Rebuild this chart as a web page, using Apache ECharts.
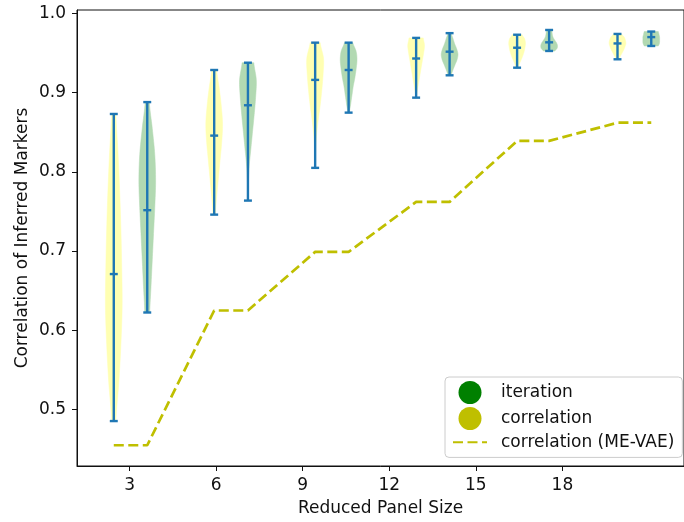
<!DOCTYPE html>
<html>
<head>
<meta charset="utf-8">
<script src="https://cdn.jsdelivr.net/npm/echarts@6/dist/echarts.min.js"></script>
<style>
html,body{margin:0;padding:0;background:#fff;}
#chart{width:684px;height:522px;}
</style>
</head>
<body>
<div id="chart"></div>
<script>
// ---- data ----
const xTicks = [3, 6, 9, 12, 15, 18];
const yTicks = [0.5, 0.6, 0.7, 0.8, 0.9, 1.0];

// "correlation" violins (yellow)
const corrPos    = [2.45, 5.93, 9.43, 12.93, 16.43, 19.91];
const corrMin    = [0.4855, 0.746, 0.805, 0.8936, 0.9314, 0.942];
const corrMedian = [0.671, 0.8457, 0.916, 0.943, 0.9566, 0.962];
const corrMax    = [0.873, 0.9285, 0.963, 0.969, 0.973, 0.974];
// relative density width sampled evenly from min to max
const corrShape = [
  [0.25, 0.6, 0.85, 1.0, 0.95, 0.85, 0.7, 0.5, 0.25],
  [0.15, 0.3, 0.5, 0.7, 0.9, 1.0, 0.85, 0.6, 0.3],
  [0.02, 0.05, 0.15, 0.35, 0.6, 0.8, 0.95, 1.0, 0.6],
  [0.02, 0.15, 0.3, 0.45, 0.6, 0.75, 0.9, 1.0, 0.85],
  [0.15, 0.3, 0.5, 0.7, 0.85, 0.95, 1.0, 0.9, 0.6],
  [0.2, 0.35, 0.55, 0.75, 0.9, 1.0, 0.95, 0.8, 0.5]
];

// "iteration" violins (green)
const iterPos    = [3.61, 7.10, 10.59, 14.09, 17.54, 21.08];
const iterMin    = [0.6225, 0.7637, 0.8747, 0.9218, 0.9525, 0.9588];
const iterMedian = [0.7516, 0.884, 0.9285, 0.9516, 0.9634, 0.970];
const iterMax    = [0.888, 0.9377, 0.963, 0.975, 0.979, 0.977];
const iterShape = [
  [0.3, 0.45, 0.6, 0.75, 0.9, 1.0, 0.9, 0.6, 0.25],
  [0.02, 0.05, 0.15, 0.35, 0.55, 0.75, 0.92, 1.0, 0.7],
  [0.1, 0.25, 0.4, 0.55, 0.75, 0.9, 1.0, 0.9, 0.5],
  [0.2, 0.4, 0.65, 0.9, 1.0, 0.85, 0.6, 0.4, 0.2],
  [0.7, 0.95, 1.0, 0.9, 0.7, 0.5, 0.4, 0.35, 0.3],
  [0.85, 0.95, 1.0, 1.0, 1.0, 1.0, 0.95, 0.9, 0.85]
];

// dashed line: correlation (ME-VAE), one value per violin position
const meVae = [0.455, 0.455, 0.625, 0.625, 0.699, 0.699, 0.762, 0.762, 0.839, 0.839, 0.862, 0.862];

// ---- build ----
const HALF_W = 0.29;   // max half width of a violin (x units)
const CAP_W = 0.138;   // half width of the cap lines
const BLUE = '#1f77b4';
const FONT = 'DejaVu Sans';
const FS = 17;

function densify(p, steps) {
  const out = [];
  const n = p.length;
  for (let i = 0; i < n - 1; i++) {
    const p0 = p[Math.max(i - 1, 0)], p1 = p[i], p2 = p[i + 1], p3 = p[Math.min(i + 2, n - 1)];
    for (let s = 0; s < steps; s++) {
      const t = s / steps, t2 = t * t, t3 = t2 * t;
      const v = 0.5 * ((2 * p1) + (-p0 + p2) * t + (2 * p0 - 5 * p1 + 4 * p2 - p3) * t2 + (-p0 + 3 * p1 - 3 * p2 + p3) * t3);
      out.push(Math.max(0, v));
    }
  }
  out.push(p[n - 1]);
  return out;
}

function makeRender(shapes, fill) {
  return function (params, api) {
    const pos = api.value(0), mn = api.value(1), md = api.value(2), mx = api.value(3);
    const w = densify(shapes[params.dataIndex], 8);
    const m = w.length;
    const left = [], right = [];
    for (let i = 0; i < m; i++) {
      const y = mn + (mx - mn) * i / (m - 1);
      left.push(api.coord([pos - HALF_W * w[i], y]));
      right.push(api.coord([pos + HALF_W * w[i], y]));
    }
    const pts = left.concat(right.reverse());
    const ln = (a, b) => ({
      type: 'line',
      shape: { x1: a[0], y1: a[1], x2: b[0], y2: b[1] },
      style: { stroke: BLUE, lineWidth: 2.4 }
    });
    const cap = (y) => ln(api.coord([pos - CAP_W, y]), api.coord([pos + CAP_W, y]));
    return {
      type: 'group',
      children: [
        { type: 'polygon', shape: { points: pts }, style: { fill: fill, stroke: fill, lineWidth: 0.5 } },
        ln(api.coord([pos, mn]), api.coord([pos, mx])),
        cap(mn), cap(md), cap(mx)
      ]
    };
  };
}

const corrData = corrPos.map((p, i) => [p, corrMin[i], corrMedian[i], corrMax[i]]);
const iterData = iterPos.map((p, i) => [p, iterMin[i], iterMedian[i], iterMax[i]]);
const linePos = [];
corrPos.forEach((p, i) => { linePos.push(p); linePos.push(iterPos[i]); });
const lineData = linePos.map((p, i) => [p, meVae[i]]);

const chart = echarts.init(document.getElementById('chart'), null, { renderer: 'canvas' });
chart.setOption({
  animation: false,
  backgroundColor: '#fff',
  textStyle: { fontFamily: FONT },
  grid: { left: 77, top: 10, width: 611, height: 456.3, show: true, borderColor: '#111', borderWidth: 1, containLabel: false },
  xAxis: {
    type: 'value', min: 1.175, max: 22.215,
    name: 'Reduced Panel Size', nameLocation: 'middle', nameGap: 34, nameMoveOverlap: false,
    nameTextStyle: { fontFamily: FONT, fontSize: FS, color: '#111' },
    axisLine: { show: true, onZero: false, lineStyle: { color: '#111', width: 1 } },
    axisTick: { show: true, customValues: xTicks, length: 5, lineStyle: { color: '#111' } },
    axisLabel: { customValues: xTicks, fontFamily: FONT, fontSize: FS, color: '#111', margin: 11 },
    splitLine: { show: false }
  },
  yAxis: {
    type: 'value', min: 0.4288, max: 1.0042,
    name: 'Correlation of Inferred Markers', nameLocation: 'middle', nameGap: 46, nameMoveOverlap: false,
    nameTextStyle: { fontFamily: FONT, fontSize: FS, color: '#111' },
    axisLine: { show: true, onZero: false, lineStyle: { color: '#111', width: 1 } },
    axisTick: { show: true, customValues: yTicks, length: 5, lineStyle: { color: '#111' } },
    axisLabel: { customValues: yTicks, fontFamily: FONT, fontSize: FS, color: '#111', margin: 11,
      formatter: v => Number(v).toFixed(1) },
    splitLine: { show: false }
  },
  legend: {
    left: 445, top: 377, orient: 'vertical',
    itemWidth: 34, itemHeight: 23, itemGap: 3,
    padding: [4, 8, 6, 7],
    borderColor: '#cccccc', borderWidth: 1, borderRadius: 4,
    backgroundColor: 'rgba(255,255,255,0.8)',
    textStyle: { fontFamily: FONT, fontSize: FS, color: '#111', padding: [0, 0, 0, 9] },
    data: [
      { name: 'iteration', icon: 'circle', itemStyle: { color: '#008000' } },
      { name: 'correlation', icon: 'circle', itemStyle: { color: '#bfbf00' } },
      { name: 'correlation (ME-VAE)', itemStyle: { opacity: 0 } }
    ]
  },
  series: [
    {
      name: 'correlation', type: 'custom', renderItem: makeRender(corrShape, 'rgb(255,255,178)'),
      data: corrData, encode: { x: 0, y: [1, 2, 3] }, itemStyle: { color: '#bfbf00' }, z: 2
    },
    {
      name: 'iteration', type: 'custom', renderItem: makeRender(iterShape, 'rgb(178,217,178)'),
      data: iterData, encode: { x: 0, y: [1, 2, 3] }, itemStyle: { color: '#008000' }, z: 2
    },
    {
      name: 'correlation (ME-VAE)', type: 'line', data: lineData, symbol: 'none', showSymbol: false,
      lineStyle: { color: '#bfbf00', width: 2.7, type: [10, 4.5] }, itemStyle: { color: '#bfbf00' }, z: 3
    }
  ]
});
</script>
</body>
</html>
